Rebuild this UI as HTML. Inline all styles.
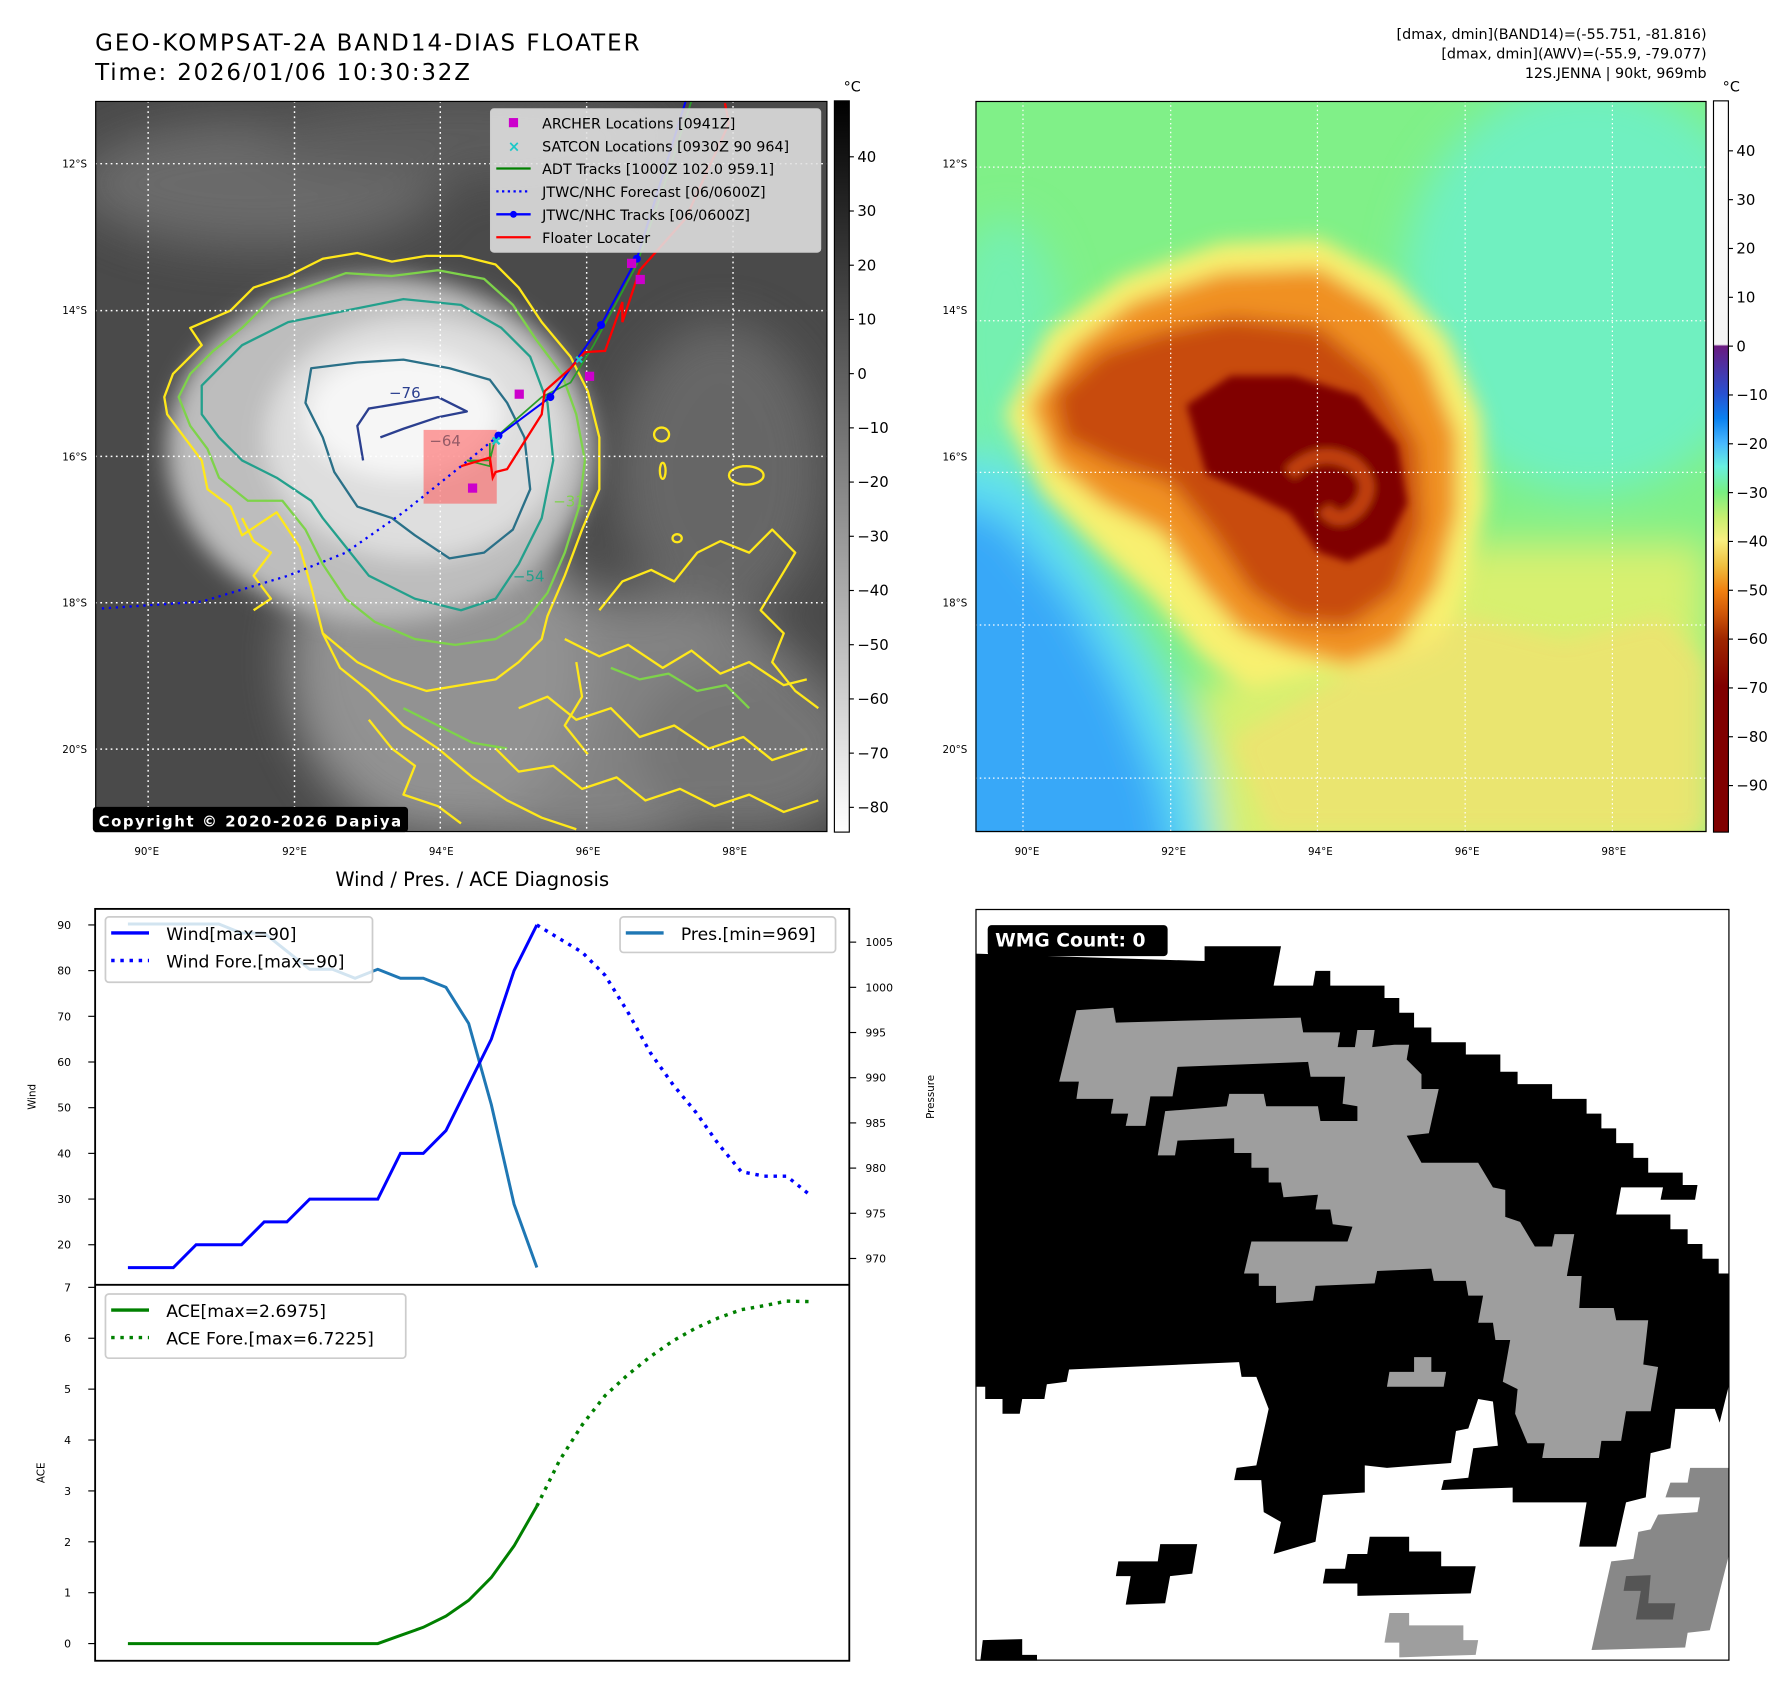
<!DOCTYPE html>
<html><head><meta charset="utf-8"><title>GEO-KOMPSAT-2A BAND14 DIAS Floater — 12S.JENNA</title>
<style>
html,body{margin:0;padding:0;background:#fff;}
svg{display:block;}
text{font-family:"DejaVu Sans","Liberation Sans",sans-serif;}
</style></head>
<body>
<svg id="root" width="1788" height="1690" viewBox="0 0 1560 1474.5" xmlns="http://www.w3.org/2000/svg">
<defs>
  <filter id="b8" x="-20%" y="-20%" width="140%" height="140%"><feGaussianBlur stdDeviation="8"/></filter>
  <filter id="b20" x="-30%" y="-30%" width="160%" height="160%"><feGaussianBlur stdDeviation="20"/></filter>
  <filter id="b40" x="-40%" y="-40%" width="180%" height="180%"><feGaussianBlur stdDeviation="40"/></filter>
  <linearGradient id="cb1" x1="0" y1="0" x2="0" y2="1">
    <stop offset="0" stop-color="#000"/><stop offset="1" stop-color="#fff"/>
  </linearGradient>
  <linearGradient id="cb2" x1="0" y1="0" x2="0" y2="1">
    <stop offset="0" stop-color="#ffffff"/>
    <stop offset="0.333" stop-color="#f4f4f4"/>
    <stop offset="0.3355" stop-color="#6a1a80"/>
    <stop offset="0.40" stop-color="#2850d0"/>
    <stop offset="0.434" stop-color="#0a80f0"/>
    <stop offset="0.468" stop-color="#48b8ff"/>
    <stop offset="0.50" stop-color="#68f0e0"/>
    <stop offset="0.535" stop-color="#78f080"/>
    <stop offset="0.57" stop-color="#c8f070"/>
    <stop offset="0.60" stop-color="#f8f080"/>
    <stop offset="0.635" stop-color="#f0c040"/>
    <stop offset="0.67" stop-color="#f08010"/>
    <stop offset="0.70" stop-color="#d05808"/>
    <stop offset="0.735" stop-color="#a02800"/>
    <stop offset="0.80" stop-color="#800000"/>
    <stop offset="1" stop-color="#800000"/>
  </linearGradient>
  <clipPath id="clip1"><rect x="165" y="176" width="1271" height="1269"/></clipPath>
  <clipPath id="clip2"><rect x="0" y="0" width="1490" height="1490"/></clipPath>
</defs>

<!-- Titles -->
<text x="83" y="44" font-size="20" textLength="475">GEO-KOMPSAT-2A BAND14-DIAS FLOATER</text>
<text x="83" y="70" font-size="20" textLength="327">Time: 2026/01/06 10:30:32Z</text>
<g font-size="12.5" text-anchor="end">
  <text x="1489" y="34">[dmax, dmin](BAND14)=(-55.751, -81.816)</text>
  <text x="1489" y="51">[dmax, dmin](AWV)=(-55.9, -79.077)</text>
  <text x="1489" y="68">12S.JENNA | 90kt, 969mb</text>
</g>

<!-- MAP 1 -->
<g>
<svg x="83" y="88" width="639" height="638" viewBox="165 176 1271 1269" preserveAspectRatio="none">
 <g clip-path="url(#clip1)">
  <rect x="165" y="176" width="1271" height="1269" fill="#4a4a4a"/>
  <g filter="url(#b40)" opacity="0.9">
    <ellipse cx="450" cy="320" rx="320" ry="110" fill="#6e6e6e"/>
    <ellipse cx="800" cy="240" rx="350" ry="70" fill="#5e5e5e"/>
    <ellipse cx="1250" cy="820" rx="180" ry="260" fill="#6a6a6a"/>
    <ellipse cx="1000" cy="1250" rx="440" ry="220" fill="#8a8a8a"/>
    <ellipse cx="760" cy="1150" rx="260" ry="300" fill="#9a9a9a"/>
    <ellipse cx="1300" cy="1300" rx="200" ry="150" fill="#7a7a7a"/>
  </g>
  <g filter="url(#b20)">
    <ellipse cx="660" cy="780" rx="370" ry="300" fill="#bdbdbd"/>
    <ellipse cx="720" cy="760" rx="260" ry="210" fill="#dedede"/>
    <ellipse cx="700" cy="720" rx="170" ry="110" fill="#f6f6f6"/>
  </g>
  <g fill="none" stroke-width="4" stroke-linejoin="round">
   <polygon stroke="#ffe81a" points="285,690 300,650 350,600 330,570 400,540 440,500 500,480 560,450 620,440 680,455 740,445 800,445 860,460 900,500 940,560 990,620 1020,680 1040,760 1040,850 1010,920 980,1000 950,1070 940,1110 900,1150 860,1180 800,1190 740,1200 680,1180 620,1150 560,1100 540,1020 520,950 480,890 420,930 400,880 360,850 350,800 320,760 290,720"/>
   <polygon stroke="#7ed34a" points="310,690 330,650 370,610 420,570 470,520 530,500 600,475 680,480 760,470 840,485 890,530 930,590 975,650 1000,720 1015,800 1005,880 980,960 950,1030 910,1080 860,1110 790,1120 720,1110 650,1080 600,1040 560,980 530,920 490,870 430,870 380,830 360,780 330,740"/>
   <polygon stroke="#23a08c" points="350,670 420,600 500,560 600,540 700,520 800,530 870,570 920,620 950,700 960,800 940,900 900,980 860,1040 800,1060 720,1040 640,1000 600,950 560,900 540,870 480,830 420,800 380,760 350,720"/>
   <polygon stroke="#2a7088" points="540,640 620,630 700,625 780,640 850,660 880,700 910,760 920,850 890,920 840,960 780,970 720,930 680,900 620,880 580,820 560,760 530,700"/>
   <polyline stroke="#2b3f8f" points="630,800 620,740 640,710 700,700 760,690 810,715 760,725 700,745 660,760"/>
   <polyline stroke="#ffe81a" points="560,1100 590,1160 640,1200 700,1260 760,1300 820,1350 880,1390 940,1420 1000,1440"/>
   <polyline stroke="#ffe81a" points="1040,1060 1080,1010 1130,990 1170,1010 1210,960 1250,940 1300,960 1340,920 1380,960 1350,1010 1320,1060 1360,1100 1340,1150 1380,1200 1420,1230"/>
   <polyline stroke="#ffe81a" points="980,1110 1040,1140 1090,1120 1150,1160 1200,1130 1250,1170 1300,1150 1360,1190 1400,1180"/>
   <polyline stroke="#ffe81a" points="900,1230 950,1210 1000,1250 1060,1230 1110,1280 1170,1260 1230,1300 1290,1280 1340,1320 1400,1300"/>
   <polyline stroke="#ffe81a" points="860,1300 900,1340 960,1330 1010,1370 1070,1350 1120,1390 1180,1370 1240,1400 1300,1380 1360,1410 1420,1390"/>
   <polyline stroke="#ffe81a" points="640,1250 680,1300 720,1330 700,1380 760,1400 800,1430"/>
   <polyline stroke="#ffe81a" points="1000,1150 1010,1210 980,1260 1020,1310"/>
   <polyline stroke="#7ed34a" points="1060,1160 1110,1180 1160,1170 1210,1200 1260,1190 1300,1230"/>
   <polyline stroke="#7ed34a" points="700,1230 760,1260 820,1290 880,1300"/>
   <polyline stroke="#ffe81a" points="420,900 440,940 470,960 440,1000 470,1040 440,1060"/>
   <ellipse cx="1148" cy="755" rx="13" ry="12" stroke="#ffe81a"/>
   <ellipse cx="1295" cy="826" rx="30" ry="16" stroke="#ffe81a"/>
   <ellipse cx="1150" cy="818" rx="5" ry="14" stroke="#ffe81a"/>
   <ellipse cx="1175" cy="935" rx="8" ry="7" stroke="#ffe81a"/>
  </g>
  <g fill="#55607a" font-size="26">
   <text x="675" y="692" fill="#2b3f8f">−76</text>
   <text x="745" y="775" fill="#2a7088">−64</text>
   <text x="890" y="1010" fill="#23a08c">−54</text>
   <text x="960" y="880" fill="#7ed34a">−31</text>
  </g>
  <g stroke="#fff" stroke-width="2.5" stroke-dasharray="3,6">
   <line x1="257" y1="176" x2="257" y2="1445"/><line x1="511" y1="176" x2="511" y2="1445"/>
   <line x1="764" y1="176" x2="764" y2="1445"/><line x1="1018" y1="176" x2="1018" y2="1445"/>
   <line x1="1272" y1="176" x2="1272" y2="1445"/>
   <line x1="165" y1="285" x2="1436" y2="285"/><line x1="165" y1="540" x2="1436" y2="540"/>
   <line x1="165" y1="793" x2="1436" y2="793"/><line x1="165" y1="1047" x2="1436" y2="1047"/>
   <line x1="165" y1="1301" x2="1436" y2="1301"/>
  </g>
  <rect x="735" y="747" width="127" height="128" fill="rgba(255,70,70,0.5)"/>
  <polyline fill="none" stroke="#2a9d2a" stroke-width="3" points="1200,176 1150,330 1105,460 1030,600 990,665 940,690 860,760 850,800 810,800 850,810 850,770"/>
  <polyline fill="none" stroke="#0000ff" stroke-width="4" stroke-dasharray="4,8" points="865,757 800,810 700,890 600,960 500,1000 350,1045 175,1057"/>
  <polyline fill="none" stroke="#0000ff" stroke-width="3.5" points="1190,176 1105,450 1043,565 955,690 865,757"/>
  <g fill="#0000ff"><circle cx="1105" cy="450" r="7"/><circle cx="1043" cy="565" r="7"/><circle cx="955" cy="690" r="7"/><circle cx="865" cy="757" r="7"/></g>
  <polyline fill="none" stroke="#ff0000" stroke-width="4" points="1258,180 1265,215 1190,380 1110,470 1080,560 1080,525 1050,610 1015,612 990,640 945,680 940,720 880,815 860,820 855,830 850,795 800,810"/>
  <g fill="#cc00cc">
   <rect x="1088" y="450" width="16" height="16"/><rect x="1103" y="478" width="16" height="16"/>
   <rect x="1015" y="646" width="16" height="16"/><rect x="893" y="677" width="16" height="16"/>
   <rect x="812" y="840" width="16" height="16"/>
  </g>
  <g stroke="#1cc8c8" stroke-width="4">
   <path d="M855,760 l12,12 M867,760 l-12,12"/><path d="M1000,620 l10,10 M1010,620 l-10,10"/>
  </g>
 </g>
 <rect x="165" y="176" width="1271" height="1269" fill="none" stroke="#000" stroke-width="4"/>
</svg>
</g>

<g>
 <rect x="428" y="95" width="288" height="125" rx="3" fill="rgba(225,225,225,0.88)" stroke="#ccc"/>
 <g font-size="12.5">
  <rect x="444" y="103" width="8" height="8" fill="#cc00cc"/>
  <text x="473" y="112">ARCHER Locations [0941Z]</text>
  <text x="443" y="132" fill="#1cc8c8" font-size="13" font-weight="bold">×</text>
  <text x="473" y="132">SATCON Locations [0930Z 90 964]</text>
  <line x1="433" y1="147" x2="463" y2="147" stroke="#008000" stroke-width="2"/>
  <text x="473" y="152">ADT Tracks [1000Z 102.0 959.1]</text>
  <line x1="433" y1="167" x2="463" y2="167" stroke="#0000ff" stroke-width="2" stroke-dasharray="2,3"/>
  <text x="473" y="172">JTWC/NHC Forecast [06/0600Z]</text>
  <line x1="433" y1="187" x2="463" y2="187" stroke="#0000ff" stroke-width="2"/><circle cx="448" cy="187" r="3" fill="#0000ff"/>
  <text x="473" y="192">JTWC/NHC Tracks [06/0600Z]</text>
  <line x1="433" y1="207" x2="463" y2="207" stroke="#ff0000" stroke-width="2"/>
  <text x="473" y="212">Floater Locater</text>
 </g>
</g>
<g>
 <rect x="81" y="704" width="275" height="22" rx="3" fill="#000"/>
 <text x="86" y="721" font-size="13" font-weight="bold" fill="#fff" textLength="264">Copyright © 2020-2026 Dapiya</text>
</g>

<g font-size="9" text-anchor="end">
 <text x="76" y="146">12°S</text><text x="76" y="274">14°S</text><text x="76" y="402">16°S</text><text x="76" y="529">18°S</text><text x="76" y="657">20°S</text>
</g>
<g font-size="9" text-anchor="middle">
 <text x="128" y="746">90°E</text><text x="257" y="746">92°E</text><text x="385" y="746">94°E</text><text x="513" y="746">96°E</text><text x="641" y="746">98°E</text>
</g>
<g font-size="9" text-anchor="end">
 <text x="844" y="146">12°S</text><text x="844" y="274">14°S</text><text x="844" y="402">16°S</text><text x="844" y="529">18°S</text><text x="844" y="657">20°S</text>
</g>
<g font-size="9" text-anchor="middle">
 <text x="896" y="746">90°E</text><text x="1024" y="746">92°E</text><text x="1152" y="746">94°E</text><text x="1280" y="746">96°E</text><text x="1408" y="746">98°E</text>
</g>

<g>
 <rect x="728" y="88" width="13" height="638" fill="url(#cb1)" stroke="#000" stroke-width="1"/>
 <text x="736" y="80" font-size="12.5">°C</text>
 <g id="cb1ticks" font-size="13"></g>
</g>
<g>
<svg x="851" y="88" width="638" height="638" viewBox="0 0 1490 1490" preserveAspectRatio="none">
 <g clip-path="url(#clip2)">
  <rect x="0" y="0" width="1490" height="1490" fill="#80f088"/>
  <g filter="url(#b40)">
   <ellipse cx="1250" cy="380" rx="380" ry="420" fill="#70f0c0"/>
   <ellipse cx="60" cy="500" rx="120" ry="260" fill="#74f0b0"/>
   <polygon points="-100,700 120,760 260,960 380,1150 470,1350 560,1600 -100,1600" fill="#60e0f0"/>
   <polygon points="-100,800 60,850 200,1020 300,1200 380,1400 420,1600 -100,1600" fill="#38a8f8"/>
   <polygon points="1000,900 1490,900 1490,1600 500,1600 450,1200" fill="#d8f070"/>
  </g>
  <g filter="url(#b20)">
   <polygon points="60,640 150,470 300,360 500,290 700,280 850,360 960,480 1030,640 1040,820 1000,980 950,1120 820,1170 700,1160 560,1200 460,1130 360,1010 260,920 140,800" fill="#f8f070"/>
   <polygon points="1000,1050 1200,1100 1400,1050 1490,1150 1490,1490 600,1490 520,1300 700,1200" fill="#f2e070" opacity="0.7"/>
   <polygon points="110,620 200,500 320,410 500,350 700,340 830,420 920,530 980,680 980,840 940,990 860,1110 760,1150 640,1120 540,1080 460,990 380,880 260,820 160,740" fill="#f09020"/>
   <polygon points="160,600 260,510 380,470 520,440 700,460 820,560 900,700 910,860 860,1000 760,1070 650,1060 560,1000 480,880 400,780 280,740 180,690" fill="#c84c08"/>
  </g>
  <g filter="url(#b8)">
   <polygon points="430,620 520,560 650,560 780,600 860,700 880,820 840,900 760,940 700,920 640,840 560,800 470,760" fill="#800000"/>
   <path d="M640,760 q60,-60 130,-20 q50,40 10,90 q-40,40 -70,0" fill="none" stroke="#c04010" stroke-width="30"/>
  </g>
  <g stroke="#fff" stroke-width="2.5" stroke-dasharray="3,6">
   <line x1="97" y1="0" x2="97" y2="1490"/><line x1="398" y1="0" x2="398" y2="1490"/>
   <line x1="697" y1="0" x2="697" y2="1490"/><line x1="998" y1="0" x2="998" y2="1490"/>
   <line x1="1298" y1="0" x2="1298" y2="1490"/>
   <line x1="0" y1="135" x2="1490" y2="135"/><line x1="0" y1="448" x2="1490" y2="448"/>
   <line x1="0" y1="757" x2="1490" y2="757"/><line x1="0" y1="1068" x2="1490" y2="1068"/>
   <line x1="0" y1="1380" x2="1490" y2="1380"/>
  </g>
 </g>
 <rect x="0" y="0" width="1490" height="1490" fill="none" stroke="#000" stroke-width="5"/>
</svg>
</g>
<g>
 <rect x="1495" y="88" width="13" height="638" fill="url(#cb2)" stroke="#000" stroke-width="1"/>
 <text x="1503" y="80" font-size="12.5">°C</text>
 <g id="cb2ticks" font-size="13"></g>
</g>

<text x="412" y="773" font-size="17" text-anchor="middle">Wind / Pres. / ACE Diagnosis</text>
<g id="chart"></g>

<g>
<svg x="851" y="793" width="658" height="656" viewBox="0 4 1530 1528" preserveAspectRatio="none">
 <rect x="0" y="4" width="1530" height="1528" fill="#fff"/>
 <polygon fill="#000" points="0,95 465,110 465,80 620,80 605,160 685,160 690,130 720,130 720,160 830,160 830,185 860,185 860,215 890,215 890,245 925,245 925,275 995,275 995,300 1065,300 1065,335 1100,335 1100,360 1170,360 1170,390 1240,390 1240,420 1270,420 1270,450 1300,450 1300,480 1335,480 1335,510 1365,510 1365,540 1435,540 1435,565 1465,565 1460,595 1390,595 1395,570 1310,570 1300,625 1410,625 1410,655 1445,655 1445,685 1475,685 1475,715 1508,715 1508,745 1528,745 1528,975 1510,1048 1500,1020 1420,1020 1410,1100 1370,1110 1360,1200 1320,1210 1300,1300 1225,1300 1240,1210 1090,1210 1090,1180 945,1185 950,1165 1000,1160 1010,1100 1060,1095 1050,1005 1020,1000 1000,1060 975,1065 965,1130 835,1140 790,1135 790,1190 705,1195 690,1290 605,1315 620,1250 585,1230 580,1165 525,1165 530,1140 570,1135 595,1020 570,955 540,955 535,925 190,940 185,965 145,970 140,1000 95,1000 90,1030 55,1030 55,1000 20,1000 20,975 0,975"/>
 <polygon fill="#9e9e9e" points="205,210 280,205 285,235 660,225 665,255 740,255 735,285 770,285 775,250 810,250 805,285 850,280 880,280 875,310 905,340 905,370 940,370 920,460 875,465 905,520 1020,520 1050,570 1075,575 1075,630 1105,640 1135,690 1170,690 1175,665 1215,665 1200,750 1230,750 1225,815 1295,815 1300,840 1365,840 1355,930 1385,935 1370,1025 1320,1025 1310,1085 1270,1085 1265,1120 1150,1120 1155,1090 1120,1090 1095,1030 1100,980 1070,965 1085,880 1055,880 1050,845 1020,845 1030,790 1000,790 995,760 930,760 925,735 815,740 810,765 690,770 685,800 610,805 610,770 575,770 575,745 545,745 560,680 755,680 765,650 725,645 720,615 690,615 695,585 625,590 620,560 595,560 595,530 560,530 560,500 525,500 525,470 410,475 405,505 370,505 385,415 510,405 515,380 585,380 590,405 695,405 700,435 775,435 775,405 745,400 750,345 680,345 675,315 410,325 400,385 355,385 345,445 305,445 310,420 275,420 280,390 205,390 210,355 170,355"/>
 <polygon fill="#9e9e9e" points="890,915 925,915 925,945 955,945 950,975 835,975 840,945 890,945"/>
 <polygon fill="#000" points="375,1295 450,1295 440,1355 395,1360 385,1415 305,1418 315,1360 285,1360 290,1330 370,1330"/>
 <polygon fill="#000" points="800,1280 880,1280 880,1310 945,1310 945,1340 1015,1340 1005,1395 775,1400 775,1375 705,1375 710,1345 750,1345 755,1315 795,1315"/>
 <polygon fill="#000" points="15,1490 95,1488 95,1520 125,1520 125,1532 10,1532"/>
 <polygon fill="#9e9e9e" points="840,1435 880,1435 880,1460 990,1460 990,1490 1020,1490 1015,1520 860,1525 860,1495 830,1495"/>
 <polygon fill="#888" points="1450,1140 1528,1140 1528,1320 1490,1470 1445,1475 1440,1505 1250,1510 1290,1330 1335,1325 1345,1270 1370,1265 1385,1235 1465,1230 1470,1200 1400,1200 1410,1170 1445,1170"/>
 <polygon fill="#555" points="1320,1360 1370,1358 1365,1415 1420,1415 1415,1448 1340,1448 1350,1390 1315,1390"/>
 <rect x="25" y="37" width="365" height="63" rx="8" fill="#000"/>
 <text x="40" y="80" font-size="38" font-weight="bold" fill="#fff">WMG Count: 0</text>
 <rect x="0" y="4" width="1530" height="1528" fill="none" stroke="#000" stroke-width="5"/>
</svg>
</g>

<script>
const windObs = [15,15,15,20,20,20,25,25,30,30,30,30,40,40,45,55,65,80,90];
const windFore = [90,87,84,79,71,62,55,49,42,36,35,35,31];
const presObs = [1007,1007,1007,1007,1007,1006,1006,1004,1002,1002,1001,1002,1001,1001,1000,996,987,976,969];
const aceObs = [0,0,0,0,0,0,0,0,0,0,0,0,0.16,0.32,0.54,0.85,1.3,1.92,2.7];
const aceFore = [2.7,3.6,4.3,4.87,5.28,5.64,5.95,6.2,6.4,6.56,6.64,6.73,6.72];
const windTicks = [20,30,40,50,60,70,80,90];
const presTicks = [970,975,980,985,990,995,1000,1005];
const aceTicks = [0,1,2,3,4,5,6,7];
const cb1Ticks = [40,30,20,10,0,-10,-20,-30,-40,-50,-60,-70,-80];
const cb2Ticks = [40,30,20,10,0,-10,-20,-30,-40,-50,-60,-70,-80,-90];

const NS = "http://www.w3.org/2000/svg";
function mk(tag, attrs, parent){const e=document.createElementNS(NS,tag);for(const k in attrs)e.setAttribute(k,attrs[k]);parent.appendChild(e);return e;}

const xI = i => 111.6 + i*19.82;
const yWind = v => 807 + (90 - v)*3.986;
const yPres = p => 822 + (1005 - p)*7.886;
const yAce = a => 1434 - a*44.4;
const yCb1 = v => 326 - v*4.73;
const yCb2 = v => 302 - v*4.26;

const chart = document.getElementById('chart');
const fr = mk('rect',{x:83,y:793,width:658,height:656,fill:'#fff',stroke:'#000','stroke-width':1.6},chart);


const dv = mk('line',{x1:83,y1:1121,x2:741,y2:1121,stroke:'#000','stroke-width':1.6},chart);



function pts(arr, fx, fy, off){return arr.map((v,i)=>fx(i+off).toFixed(1)+','+fy(v).toFixed(1)).join(' ');}

windTicks.forEach(v=>{
  const y=yWind(v);
  mk('line',{x1:77,y1:y,x2:83,y2:y,stroke:'#000','stroke-width':1},chart);
  const t=mk('text',{x:62,y:y+3.5,'font-size':9.5,'text-anchor':'end'},chart);t.textContent=v;
  
  
});
presTicks.forEach(v=>{
  const y=yPres(v);
  mk('line',{x1:741,y1:y,x2:747,y2:y,stroke:'#000','stroke-width':1},chart);
  const t=mk('text',{x:755,y:y+3.5,'font-size':9.5},chart);t.textContent=v;
  
  
});
aceTicks.forEach(v=>{
  const y=yAce(v);
  mk('line',{x1:77,y1:y,x2:83,y2:y,stroke:'#000','stroke-width':1},chart);
  const t=mk('text',{x:62,y:y+3.5,'font-size':9.5,'text-anchor':'end'},chart);t.textContent=v;
  
  
});
const yl1=mk('text',{x:0,y:0,'font-size':9,'text-anchor':'middle',transform:'translate(31,957) rotate(-90)'},chart);yl1.textContent='Wind';


const yl2=mk('text',{x:0,y:0,'font-size':9,'text-anchor':'middle',transform:'translate(815,957) rotate(-90)'},chart);yl2.textContent='Pressure';


const yl3=mk('text',{x:0,y:0,'font-size':9,'text-anchor':'middle',transform:'translate(39,1285) rotate(-90)'},chart);yl3.textContent='ACE';



const pl=mk('polyline',{points:pts(presObs,xI,yPres,0),fill:'none',stroke:'#1f77b4','stroke-width':2.6},chart);


const wl=mk('polyline',{points:pts(windObs,xI,yWind,0),fill:'none',stroke:'#0000ff','stroke-width':2.6},chart);


const wf=mk('polyline',{points:pts(windFore,xI,yWind,windObs.length-1),fill:'none',stroke:'#0000ff','stroke-width':3,'stroke-dasharray':'3,5'},chart);


const al=mk('polyline',{points:pts(aceObs,xI,yAce,0),fill:'none',stroke:'#008000','stroke-width':2.6},chart);


const af=mk('polyline',{points:pts(aceFore,xI,yAce,aceObs.length-1),fill:'none',stroke:'#008000','stroke-width':3,'stroke-dasharray':'3,5'},chart);



function legend(x,y,w,h,rows,name){
  const g=mk('g',{},chart);
  
  
  mk('rect',{x:x,y:y,width:w,height:h,rx:3,fill:'rgba(255,255,255,0.8)',stroke:'#ccc','stroke-width':1.5},g);
  rows.forEach((r,i)=>{
    const yy=y+14+i*24;
    const ln=mk('line',{x1:x+5,y1:yy,x2:x+38,y2:yy,stroke:r.c,'stroke-width':3},g);
    if(r.d) ln.setAttribute('stroke-dasharray','3,5');
    const t=mk('text',{x:x+53,y:yy+6,'font-size':15},g);t.textContent=r.t;
  });
}
legend(92,800,233,57,[{c:'#0000ff',t:'Wind[max=90]'},{c:'#0000ff',t:'Wind Fore.[max=90]',d:1}],'wind-legend');
legend(541,800,188,31,[{c:'#1f77b4',t:'Pres.[min=969]'}],'pressure-legend');
legend(92,1129,262,56,[{c:'#008000',t:'ACE[max=2.6975]'},{c:'#008000',t:'ACE Fore.[max=6.7225]',d:1}],'ace-legend');

const c1=document.getElementById('cb1ticks');
cb1Ticks.forEach(v=>{const y=yCb1(v);mk('line',{x1:741,y1:y,x2:745,y2:y,stroke:'#000'},c1);const t=mk('text',{x:748,y:y+4.5},c1);t.textContent=(v<0?'−':'')+Math.abs(v);
  
  });
const c2=document.getElementById('cb2ticks');
cb2Ticks.forEach(v=>{const y=yCb2(v);mk('line',{x1:1508,y1:y,x2:1512,y2:y,stroke:'#000'},c2);const t=mk('text',{x:1515,y:y+4.5},c2);t.textContent=(v<0?'−':'')+Math.abs(v);
  
  });
</script>
</svg>
</body></html>
